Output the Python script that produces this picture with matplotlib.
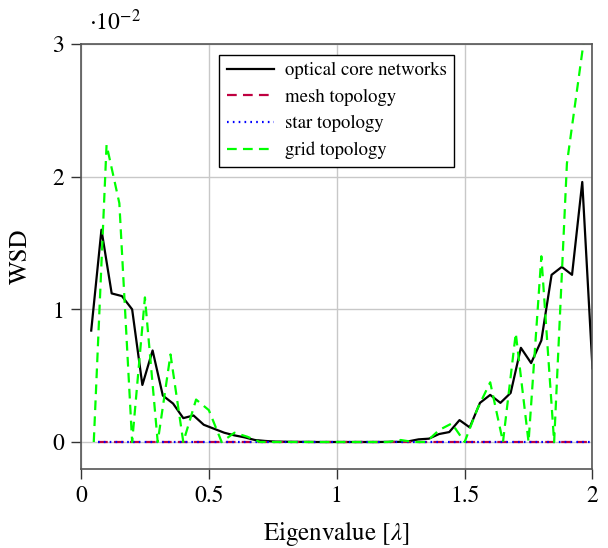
import numpy as np
import matplotlib
matplotlib.use('Agg')
import matplotlib.pyplot as plt

plt.rcParams['font.family'] = ['STIXGeneral', 'DejaVu Serif']
plt.rcParams['mathtext.fontset'] = 'stix'
plt.rcParams['lines.scale_dashes'] = False

# WSD values are in units of 1e-2
# optical core networks, eigenvalue grid step 0.04
x_optical = np.linspace(0.04, 2.0, 50)
wsd_optical = [0.84, 1.60, 1.12, 1.10, 1.00, 0.43, 0.69, 0.35, 0.29, 0.18,
               0.20, 0.13, 0.10, 0.07, 0.05, 0.035, 0.015, 0.008, 0.003, 0.002,
               0.001, 0.001, 0.0, 0.0, 0.0, 0.0, 0.0, 0.0, 0.0, 0.001,
               0.001, 0.005, 0.02, 0.025, 0.06, 0.075, 0.165, 0.11, 0.295, 0.355,
               0.295, 0.37, 0.71, 0.595, 0.765, 1.26, 1.32, 1.26, 1.96, 0.555]

# mesh / star topology, step 2/30
x_mesh = np.linspace(2 / 30, 2.0, 30)
wsd_mesh = [0.0] * 30
x_star = np.linspace(2 / 30, 2.0, 30)
wsd_star = [0.0] * 30

# grid topology, step 0.05
x_grid = np.linspace(0.05, 2.0, 40)
wsd_grid = [0.0, 2.24, 1.80, 0.0, 1.09, 0.0, 0.66, 0.0, 0.32, 0.24,
            0.0, 0.07, 0.04, 0.0, 0.0, 0.0, 0.0, 0.0, 0.0, 0.0,
            0.0, 0.0, 0.0, 0.0, 0.015, 0.0, 0.0, 0.09, 0.14, 0.0,
            0.25, 0.45, 0.0, 0.82, 0.0, 1.40, 0.0, 2.1, 2.8, 3.5]

fig = plt.figure(figsize=(6.08, 5.48), dpi=100)
ax = fig.add_axes([0.1332, 0.145, 0.8413, 0.7747])

ax.plot(x_optical, wsd_optical, color='black', lw=1.6, label='optical core networks')
ax.plot(x_mesh, wsd_mesh, color='#BF0040', lw=1.6, dashes=(7, 4.5), label='mesh topology')
ax.plot(x_star, wsd_star, color='blue', lw=1.6, dashes=(1.2, 3.0), label='star topology')
ax.plot(x_grid, wsd_grid, color='#00FF00', lw=1.6, dashes=(7, 4.5), label='grid topology')

ax.set_xlim(0, 2)
ax.set_ylim(-0.2, 3)
ax.set_xticks([0, 0.5, 1, 1.5, 2])
ax.set_xticklabels(['0', '0.5', '1', '1.5', '2'])
ax.set_yticks([0, 1, 2, 3])
ax.grid(True, color='#c8c8c8', lw=1.0)
ax.set_axisbelow(True)

for s in ax.spines.values():
    s.set_color('#555555')
    s.set_linewidth(1.2)
ax.tick_params(axis='both', direction='out', length=7, width=1.0, color='#333333',
               labelsize=17, pad=5)

ax.text(0.016, 1.033, r'$\cdot 10^{-2}$', transform=ax.transAxes, fontsize=17,
        va='baseline', ha='left')
ax.set_xlabel(r'Eigenvalue $[\lambda]$', fontsize=18, labelpad=9)
ax.set_ylabel('WSD', fontsize=18, labelpad=14)

leg = ax.legend(loc='upper center', bbox_to_anchor=(0.5, 0.975), borderaxespad=0,
                fontsize=13.5, fancybox=False, framealpha=1, edgecolor='black',
                handlelength=2.5, labelspacing=0.5, handletextpad=0.6)
leg.get_frame().set_linewidth(1.0)

fig.savefig('out.png', dpi=100)
